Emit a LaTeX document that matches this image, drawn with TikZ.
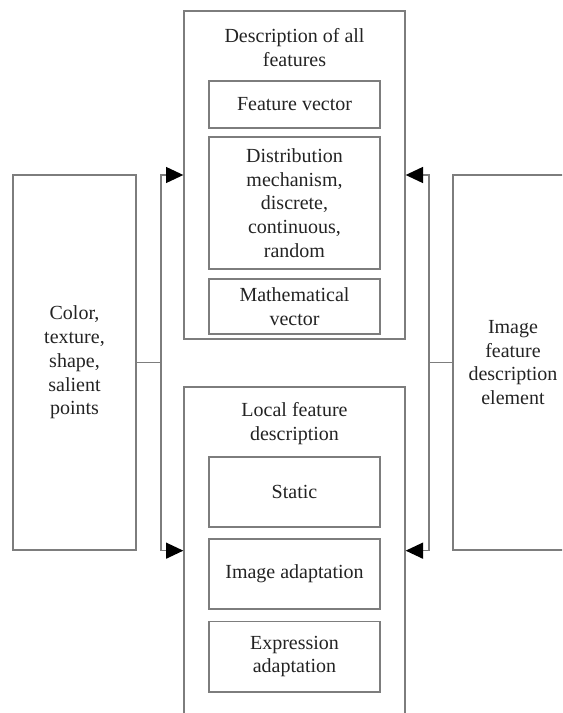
\documentclass[tikz,border=0pt]{standalone}
\usepackage{fontspec}
\setmainfont{Liberation Serif}
\usetikzlibrary{arrows.meta}
\definecolor{linegray}{RGB}{125,125,125}
\definecolor{txt}{RGB}{35,35,35}
\newcommand\diagfont{\fontsize{15}{17.8}\selectfont}
\begin{document}
\begin{tikzpicture}[x=0.75pt,y=-0.75pt,
  box/.style={draw=linegray, line width=1pt, inner sep=0pt, align=center, font=\diagfont, text=txt},
  label/.style={inner sep=0pt, align=center, font=\diagfont, text=txt},
  conn/.style={draw=linegray, line width=1pt},
  arr/.style={conn, -{Triangle[length=13pt,width=12pt,color=black]}, shorten >=0pt}]
\useasboundingbox (0,0) rectangle (562,713);
\clip (0,0) rectangle (562,713);
% left and right boxes
\node[box, minimum width=92.25pt, minimum height=281.25pt] (L) at (74.5,362.5)
  {Color,\\texture,\\shape,\\salient\\points};
\node[box, minimum width=90pt, minimum height=281.25pt] (R) at (513,362.5)
  {Image\\feature\\description\\element};
% top container
\node[box, minimum width=165.75pt, minimum height=246pt] (T) at (294.5,175) {};
\node[label] (Tt) at (294.5,47.5) {Description of all\\features};
\node[box, minimum width=128.25pt, minimum height=35.25pt] (T1) at (294.5,104.5) {Feature vector};
\node[box, minimum width=128.25pt, minimum height=99pt] (T2) at (294.5,203) {Distribution\\mechanism,\\discrete,\\continuous,\\random};
\node[box, minimum width=128.25pt, minimum height=41.25pt] (T3) at (294.5,306.5) {Mathematical\\vector};
% bottom container (extends past the lower edge)
\node[box, minimum width=165.75pt, minimum height=247.5pt] (B) at (294.5,552) {};
\node[label] (Bt) at (294.5,423.5) {Local feature\\description};
\node[box, minimum width=128.25pt, minimum height=52.5pt] (B1) at (294.5,492) {Static};
\node[box, minimum width=128.25pt, minimum height=52.5pt] (B2) at (294.5,574) {Image adaptation};
\node[box, minimum width=128.25pt, minimum height=53pt] (B3) at (294.5,656.5) {Expression\\adaptation};
% junctions
\coordinate (jl) at (161,362.5);
\coordinate (jr) at (429,362.5);
\coordinate (Bl) at (B.west |- L.south);
\coordinate (Br) at (B.east |- R.south);
\draw[conn] (L.east) -- (jl);
\draw[arr] (jl) |- (T.west);
\draw[arr] (jl) |- (Bl);
\draw[conn] (R.west) -- (jr);
\draw[arr] (jr) |- (T.east);
\draw[arr] (jr) |- (Br);
\end{tikzpicture}
\end{document}
